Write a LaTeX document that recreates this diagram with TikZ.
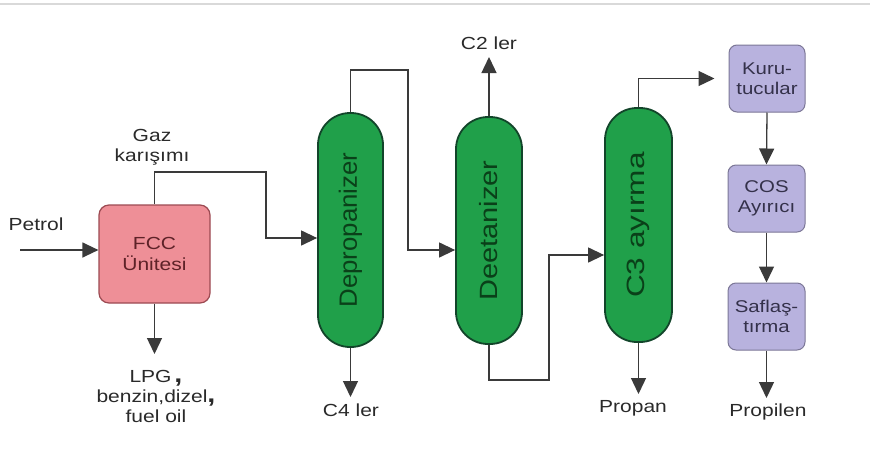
\documentclass[tikz,border=0pt]{standalone}
\usepackage{fontspec}
\usepackage{graphicx}
\setmainfont[FakeStretch=1.2]{Liberation Sans}
\newfontfamily\capfont{Liberation Sans}
\usetikzlibrary{arrows.meta}

\definecolor{fccfill}{HTML}{EE8F97}
\definecolor{fccdraw}{HTML}{9C4A52}
\definecolor{fcctext}{HTML}{5E2228}
\definecolor{colfill}{HTML}{20A04A}
\definecolor{coldraw}{HTML}{12452A}
\definecolor{coltext}{HTML}{0A4019}
\definecolor{boxfill}{HTML}{B8B2DE}
\definecolor{boxdraw}{HTML}{7C7797}
\definecolor{boxtext}{HTML}{34314A}
\definecolor{linec}{HTML}{3A3A3A}
\definecolor{labc}{HTML}{2A2A2A}

\newcommand{\coltxt}[2]{\rotatebox{90}{\scalebox{#1}[1.25]{\capfont\fontsize{20}{22}\selectfont #2}}}
\newcommand{\bigcomma}{{\bfseries\fontsize{24}{20}\selectfont ,}}

\begin{document}
\begin{tikzpicture}[x=1pt,y=-1pt,
  lbl/.style={text=labc, font=\fontsize{17.5}{20}\selectfont, align=center, inner sep=0pt},
  fccbox/.style={draw=fccdraw, fill=fccfill, line width=1.2pt, rounded corners=10pt,
    minimum width=111pt, minimum height=98pt, text=fcctext, align=center,
    font=\fontsize{17.5}{21}\selectfont},
  column/.style={draw=coldraw, fill=colfill, line width=1.8pt, rounded corners=32pt,
    inner sep=0pt, text=coltext},
  pbox/.style={draw=boxdraw, fill=boxfill, line width=1pt, rounded corners=8pt,
    minimum width=77pt, minimum height=67pt, text=boxtext, align=center,
    font=\fontsize{17}{19.5}\selectfont},
  flow/.style={draw=linec, line width=1.3pt, -{Triangle[length=16pt,width=15pt]}},
  pipe/.style={draw=linec, line width=1.3pt}]

\useasboundingbox (0,0) rectangle (870,461);
\fill[white] (0,0) rectangle (870,461);
\draw[black!15, line width=1.5pt] (0,4) -- (870,4);

% process units
\node[fccbox] (fcc) at (154.5,254) {FCC\\Ünitesi};
\node[column, minimum width=65pt, minimum height=234pt] (depr) at (350.5,230) {\coltxt{1.29}{Depropanizer}};
\node[column, minimum width=66pt, minimum height=227pt] (deet) at (489,230.5) {\coltxt{1.45}{Deetanizer}};
\node[column, minimum width=67pt, minimum height=234pt] (c3) at (638.5,225) {\coltxt{1.58}{C3 ayırma}};
\node[pbox, minimum width=76pt] (kur) at (767,78.5) {Kuru-\\tucular};
\node[pbox] (cos) at (766.5,198.5) {COS\\Ayırıcı};
\node[pbox] (saf) at (766.5,316.5) {Saflaş-\\tırma};

% helper points for the stream routing
\coordinate (pin) at (20,250);
\coordinate (gA) at (266,172);
\coordinate (gB) at (0,238);
\coordinate (dA) at (408,70);
\coordinate (dB) at (0,250);
\coordinate (eA) at (549,380);
\coordinate (eB) at (0,255);
\coordinate (lpgEnd) at (154.5,354);
\coordinate (c2End) at (489,57);
\coordinate (c4End) at (350.5,397);
\coordinate (propEnd) at (638.5,394);
\coordinate (pilEnd) at (766.5,398);

% streams
\draw[flow] (pin) -- (pin -| fcc.west);
\draw[flow] (fcc.north) |- (gA) |- (depr.west |- gB);
\draw[flow] (fcc.south) -- (lpgEnd);
\draw[flow] (depr.north) |- (dA) |- (deet.west |- dB);
\draw[flow] (depr.south) -- (c4End);
\draw[flow] (deet.north) -- (c2End);
\draw[flow] (deet.south) |- (eA) |- (c3.west |- eB);
\draw[flow] (c3.north) |- ([xshift=-14pt]kur.west);
\draw[flow] (c3.south) -- (propEnd);
\draw[flow] (kur.south) -- (cos.north);
\draw[flow] (cos.south) -- (saf.north);
\draw[flow] (saf.south) -- (pilEnd);

% stream labels
\node[lbl] (petrol) at (36,224) {Petrol};
\node[lbl] (gaz) at (152,147) {Gaz\\karışımı};
\node[lbl] (lpg) at (156,396) {LPG\,\bigcomma\\benzin,dizel\bigcomma\\fuel oil};
\node[lbl] (c2) at (489,43) {C2 ler};
\node[lbl] (c4) at (351,410) {C4 ler};
\node[lbl] (propan) at (633,408) {Propan};
\node[lbl] (propilen) at (768,412) {Propilen};
\end{tikzpicture}
\end{document}
